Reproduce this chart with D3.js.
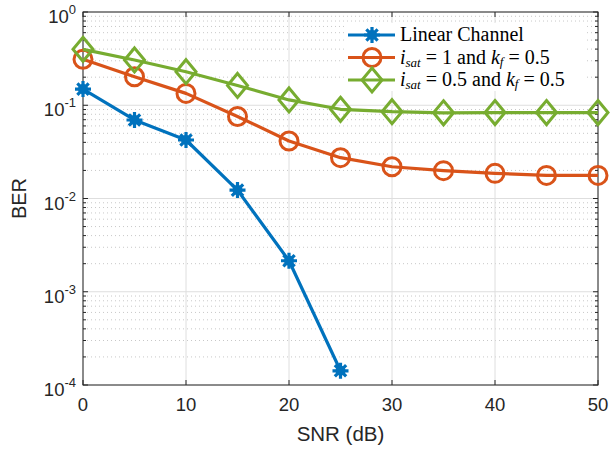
<!DOCTYPE html>
<html><head><meta charset="utf-8">
<script src="https://cdn.jsdelivr.net/npm/d3@7"></script>
<style>body{margin:0;background:#fff}svg{display:block}</style>
</head><body>
<svg id="c" width="610" height="450"></svg>
<script>
const snr = [0,5,10,15,20,25,30,35,40,45,50];
const berLinear = [0.149,0.0695,0.0424,0.0123,0.00215,0.000142];
const berSat1 = [0.311,0.202,0.134,0.0758,0.0414,0.0274,0.0219,0.0199,0.0186,0.0177,0.0177];
const berSat05 = [0.398,0.306,0.229,0.163,0.114,0.0905,0.0853,0.083,0.0835,0.0835,0.0835];
const xTicks = [0,10,20,30,40,50];
const yTickExps = [0,-1,-2,-3,-4];
const legendLabels = ["Linear Channel","i_sat = 1 and k_f = 0.5","i_sat = 0.5 and k_f = 0.5"];
const colors = ["#0072BD","#D95319","#77AC30"];

const svg = d3.select("#c");
const L=83, R=598, T=12, B=385;
const x = d3.scaleLinear().domain([0,50]).range([L,R]);
const y = d3.scaleLog().domain([1e-4,1]).range([B,T]);

// grid
const g = svg.append("g");
const minor=[];
for(let e=-4;e<0;e++) for(let k=2;k<=9;k++) minor.push(k*Math.pow(10,e));
g.selectAll(".mg").data(minor).join("line")
 .attr("x1",L).attr("x2",R).attr("y1",d=>y(d)).attr("y2",d=>y(d))
 .attr("stroke","#c8c8c8").attr("stroke-width",1).attr("stroke-dasharray","1,3");
g.selectAll(".yg").data(yTickExps).join("line")
 .attr("x1",L).attr("x2",R).attr("y1",d=>y(Math.pow(10,d))).attr("y2",d=>y(Math.pow(10,d)))
 .attr("stroke","#dedede").attr("stroke-width",1);
g.selectAll(".xg").data(xTicks).join("line")
 .attr("y1",T).attr("y2",B).attr("x1",d=>x(d)).attr("x2",d=>x(d))
 .attr("stroke","#dedede").attr("stroke-width",1);

// axes box and ticks
const ax = svg.append("g").attr("stroke","#262626").attr("stroke-width",1);
ax.selectAll(".xt").data(xTicks).join("line")
 .attr("x1",d=>x(d)).attr("x2",d=>x(d)).attr("y1",B).attr("y2",B-5);
ax.selectAll(".xt2").data(xTicks).join("line")
 .attr("x1",d=>x(d)).attr("x2",d=>x(d)).attr("y1",T).attr("y2",T+5);
ax.selectAll(".yt").data(yTickExps).join("line")
 .attr("x1",L).attr("x2",L+5).attr("y1",d=>y(Math.pow(10,d))).attr("y2",d=>y(Math.pow(10,d)));
ax.selectAll(".yt2").data(yTickExps).join("line")
 .attr("x1",R).attr("x2",R-5).attr("y1",d=>y(Math.pow(10,d))).attr("y2",d=>y(Math.pow(10,d)));
ax.selectAll(".ym").data(minor).join("line")
 .attr("x1",L).attr("x2",L+3).attr("y1",d=>y(d)).attr("y2",d=>y(d));
ax.selectAll(".ym2").data(minor).join("line")
 .attr("x1",R).attr("x2",R-3).attr("y1",d=>y(d)).attr("y2",d=>y(d));
ax.append("rect").attr("x",L).attr("y",T).attr("width",R-L).attr("height",B-T).attr("fill","none");

// tick labels
const tl = svg.append("g").attr("font-family","'Liberation Sans',Arial,sans-serif").attr("fill","#262626");
tl.selectAll(".xl").data(xTicks).join("text")
 .attr("x",d=>x(d)).attr("y",B+26).attr("text-anchor","middle").attr("font-size",18.5).text(d=>d);
yTickExps.forEach(e=>{
  const t = tl.append("text").attr("x",L-7).attr("y",y(Math.pow(10,e))+11).attr("text-anchor","end").attr("font-size",18.5);
  t.append("tspan").text("10");
  t.append("tspan").attr("font-size",13).attr("dy",-9).text(e);
});
tl.append("text").attr("x",(L+R)/2).attr("y",441).attr("text-anchor","middle").attr("font-size",20.5).text("SNR (dB)");
tl.append("text").attr("transform",`translate(26,${(T+B)/2}) rotate(-90)`).attr("text-anchor","middle").attr("font-size",20).text("BER");

// series
const series=[
 {vals:berLinear, c:colors[0], m:"star"},
 {vals:berSat1, c:colors[1], m:"circle"},
 {vals:berSat05, c:colors[2], m:"diamond"}
];
const line = d3.line().x(d=>x(d[0])).y(d=>y(d[1]));
function marker(sel, type, c){
  if(type==="circle"){
    sel.append("circle").attr("r",9).attr("fill","none").attr("stroke",c).attr("stroke-width",3);
  } else if(type==="diamond"){
    sel.append("path").attr("d","M0,-12L10,0L0,12L-10,0Z").attr("fill","none").attr("stroke",c).attr("stroke-width",3);
  } else {
    const r=8;
    let d="";
    for(let i=0;i<4;i++){const a=i*Math.PI/4; d+=`M${-r*Math.cos(a)},${-r*Math.sin(a)}L${r*Math.cos(a)},${r*Math.sin(a)}`;}
    sel.append("path").attr("d",d).attr("stroke",c).attr("stroke-width",3.2);
    sel.append("circle").attr("r",5).attr("fill",c);
  }
}
series.forEach(s=>{
  const pts = s.vals.map((v,i)=>[snr[i],v]);
  svg.append("path").datum(pts).attr("d",line).attr("fill","none").attr("stroke",s.c).attr("stroke-width",3.2).attr("stroke-linejoin","round");
  svg.append("g").selectAll("g").data(pts).join("g")
   .attr("transform",d=>`translate(${x(d[0])},${y(d[1])})`)
   .each(function(){marker(d3.select(this),s.m,s.c);});
});

// legend
const lg = svg.append("g");
lg.append("rect").attr("x",345).attr("y",23).attr("width",240).attr("height",68).attr("fill","#fff");
const rowsY=[35,57.5,80];
const sf="'Liberation Serif','Times New Roman',serif";
series.forEach((s,i)=>{
  lg.append("line").attr("x1",348).attr("x2",395).attr("y1",rowsY[i]).attr("y2",rowsY[i]).attr("stroke",s.c).attr("stroke-width",3.2);
  const mg=lg.append("g").attr("transform",`translate(372,${rowsY[i]})`);
  marker(mg,s.m,s.c);
});
const lt = lg.append("g").attr("font-family",sf).attr("font-size",20).attr("fill","#000");
lt.append("text").attr("x",400).attr("y",rowsY[0]+6).text(legendLabels[0]);
function mathRow(yy, val){
  const t=lt.append("text").attr("x",400).attr("y",yy+6);
  t.append("tspan").attr("font-style","italic").text("i");
  t.append("tspan").attr("font-style","italic").attr("font-size",13).attr("dy",3).text("sat");
  t.append("tspan").attr("dy",-3).text(" = "+val+" and ");
  t.append("tspan").attr("font-style","italic").text("k");
  t.append("tspan").attr("font-style","italic").attr("font-size",13).attr("dy",2).text("f");
  t.append("tspan").attr("dy",-2).text(" = 0.5");
}
mathRow(rowsY[1],"1");
mathRow(rowsY[2],"0.5");
</script>
</body></html>
